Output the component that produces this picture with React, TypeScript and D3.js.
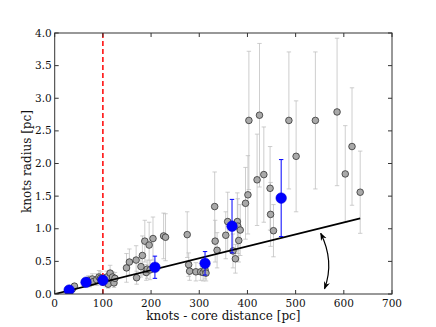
import * as d3 from 'd3';
import React from 'react';

const width = 436;
const height = 327;
const margin = {left: 54.7, right: 44, top: 33, bottom: 33};

// grey knots: distance [pc], radius [pc], error [pc]
const knotX = [37, 41, 70, 73, 78, 80, 87, 92, 95, 106, 108, 111, 115, 120, 123, 125,
  149, 155, 169, 170, 179, 182, 187, 190, 192, 196, 198, 204, 226, 230,
  275, 278, 280, 293, 303, 308, 312, 314, 332, 333, 337, 355, 359, 370, 375,
  379, 380, 382, 385, 396, 401, 403, 420, 425, 434, 447, 448, 454,
  486, 501, 541, 586, 603, 617, 634];
const knotR = [0.08, 0.12, 0.21, 0.17, 0.23, 0.19, 0.22, 0.26, 0.24, 0.19, 0.26, 0.15, 0.32, 0.26, 0.17, 0.24,
  0.40, 0.49, 0.52, 0.25, 0.42, 0.59, 0.81, 0.33, 0.38, 0.75, 0.37, 0.85, 0.89, 0.87,
  0.91, 0.45, 0.35, 0.34, 0.34, 0.33, 0.37, 0.32, 1.34, 0.81, 0.67, 0.90, 1.11, 0.66, 0.54,
  1.11, 1.04, 0.82, 0.98, 1.39, 1.52, 2.66, 1.75, 2.74, 1.83, 1.62, 1.22, 0.97,
  2.66, 2.11, 2.66, 2.79, 1.84, 2.26, 1.56];
const knotErr = [0.03, 0.04, 0.07, 0.06, 0.08, 0.06, 0.09, 0.10, 0.10, 0.08, 0.09, 0.06, 0.12, 0.08, 0.07, 0.09,
  0.22, 0.2, 0.22, 0.1, 0.16, 0.3, 0.32, 0.12, 0.14, 0.35, 0.15, 0.33, 0.35, 0.36,
  0.35, 0.18, 0.14, 0.14, 0.13, 0.13, 0.14, 0.12, 0.53, 0.32, 0.27, 0.36, 0.45, 0.26, 0.22,
  0.44, 0.42, 0.33, 0.39, 0.55, 0.60, 1.06, 0.70, 1.10, 0.73, 0.64, 0.49, 0.40,
  1.05, 0.85, 1.05, 1.13, 0.74, 0.90, 0.63];

// binned means (blue)
const binX = [30, 65, 100, 208, 312, 368, 470];
const binR = [0.06, 0.18, 0.21, 0.41, 0.47, 1.04, 1.47];
const binErr = [0.02, 0.06, 0.07, 0.17, 0.18, 0.41, 0.59];

// linear fit
const fitX = [0, 634];
const fitR = [0, 1.16];

// curved double arrow: start, control, end
const arrowX = [552, 581, 560];
const arrowR = [0.93, 0.5, 0.08];

const xTicks = [0, 100, 200, 300, 400, 500, 600, 700];
const yTicks = [0, 0.5, 1, 1.5, 2, 2.5, 3, 3.5, 4];

const font = 'DejaVu Serif';

export default function App() {
  const x = d3.scaleLinear().domain([0, 700]).range([margin.left, width - margin.right]);
  const y = d3.scaleLinear().domain([0, 4]).range([height - margin.bottom, margin.top]);
  const x0 = x(0), x1 = x(700), y0 = y(0), y1 = y(4);

  const fitLine = d3.line<number>().x((d, i) => x(d)).y((d, i) => y(fitR[i]))(fitX) || '';
  const arrowPath = `M${x(arrowX[0])},${y(arrowR[0])} Q${x(arrowX[1])},${y(arrowR[1])} ${x(arrowX[2])},${y(arrowR[2])}`;
  const cap = 2.2;

  return (
    <svg width={width} height={height} style={{position: 'absolute', left: 0, top: 0, background: '#fff'}}>
      <defs>
        <marker id="ah" viewBox="0 0 10 10" refX="9" refY="5" markerWidth="6.5" markerHeight="6.5" orient="auto-start-reverse">
          <path d="M0,1 L10,5 L0,9 L3,5 Z" fill="#000" />
        </marker>
        <clipPath id="plot">
          <rect x={x0} y={y1} width={x1 - x0} height={y0 - y1} />
        </clipPath>
      </defs>

      <g clipPath="url(#plot)">
        {knotX.map((d, i) => (
          <g key={'e' + i} stroke="#bdbdbd" strokeOpacity={0.75} strokeWidth={1}>
            <line x1={x(d)} x2={x(d)} y1={y(knotR[i] - knotErr[i])} y2={y(knotR[i] + knotErr[i])} />
            <line x1={x(d) - cap} x2={x(d) + cap} y1={y(knotR[i] - knotErr[i])} y2={y(knotR[i] - knotErr[i])} />
            <line x1={x(d) - cap} x2={x(d) + cap} y1={y(knotR[i] + knotErr[i])} y2={y(knotR[i] + knotErr[i])} />
          </g>
        ))}
        {knotX.map((d, i) => (
          <circle key={'k' + i} cx={x(d)} cy={y(knotR[i])} r={3.3} fill="#a9a9a9" stroke="#333" strokeWidth={0.8} />
        ))}

        <line x1={x(100)} x2={x(100)} y1={y0} y2={y1} stroke="#ff0000" strokeWidth={1.5} strokeDasharray="5,3" />
        <path d={fitLine} fill="none" stroke="#000" strokeWidth={1.8} />

        {binX.map((d, i) => (
          <g key={'be' + i} stroke="#0000ff" strokeWidth={1}>
            <line x1={x(d)} x2={x(d)} y1={y(binR[i] - binErr[i])} y2={y(binR[i] + binErr[i])} />
            <line x1={x(d) - cap} x2={x(d) + cap} y1={y(binR[i] - binErr[i])} y2={y(binR[i] - binErr[i])} />
            <line x1={x(d) - cap} x2={x(d) + cap} y1={y(binR[i] + binErr[i])} y2={y(binR[i] + binErr[i])} />
          </g>
        ))}
        {binX.map((d, i) => (
          <circle key={'b' + i} cx={x(d)} cy={y(binR[i])} r={5.3} fill="#0000ff" stroke="#0000cc" strokeWidth={0.5} />
        ))}

        <path d={arrowPath} fill="none" stroke="#000" strokeWidth={1.2}
          markerStart="url(#ah)" markerEnd="url(#ah)" />
      </g>

      {/* frame */}
      <rect x={x0} y={y1} width={x1 - x0} height={y0 - y1} fill="none" stroke="#333" strokeWidth={1} />

      {xTicks.map(t => (
        <g key={'xt' + t}>
          <line x1={x(t)} x2={x(t)} y1={y0} y2={y0 - 4} stroke="#333" />
          <line x1={x(t)} x2={x(t)} y1={y1} y2={y1 + 4} stroke="#333" />
          <text x={x(t)} y={y0 + 13} textAnchor="middle" fontFamily={font} fontSize={10.5} fill="#111">{t}</text>
        </g>
      ))}
      {yTicks.map(t => (
        <g key={'yt' + t}>
          <line x1={x0} x2={x0 + 4} y1={y(t)} y2={y(t)} stroke="#333" />
          <line x1={x1} x2={x1 - 4} y1={y(t)} y2={y(t)} stroke="#333" />
          <text x={x0 - 3} y={y(t) + 3.5} textAnchor="end" fontFamily={font} fontSize={10.5} fill="#111">{t.toFixed(1)}</text>
        </g>
      ))}

      <text x={(x0 + x1) / 2} y={y0 + 26} textAnchor="middle" fontFamily={font} fontSize={12} fill="#111">
        knots - core distance [pc]
      </text>
      <text transform={`translate(${31},${(y0 + y1) / 2 - 2}) rotate(-90)`} textAnchor="middle" fontFamily={font} fontSize={12} fill="#111">
        knots radius [pc]
      </text>
    </svg>
  );
}
